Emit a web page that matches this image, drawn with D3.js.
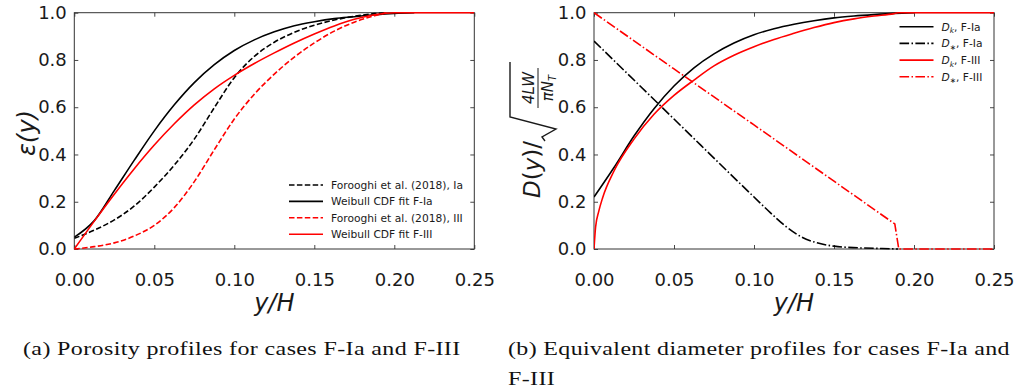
<!DOCTYPE html>
<html>
<head>
<meta charset="utf-8">
<script src="https://cdn.jsdelivr.net/npm/d3@7"></script>
<style>
  body { margin: 0; background: #fff; }
  svg { display: block; }
  text { font-family: "DejaVu Sans", sans-serif; fill: #1a1a1a; }
  text.caption { font-family: "Liberation Serif", "DejaVu Serif", serif; fill: #111; letter-spacing: 0.3px; }
</style>
</head>
<body>
<svg id="fig" width="1019" height="391"></svg>
<script>
// ---- tick labels ----
const xTickVals = [0, 0.05, 0.10, 0.15, 0.20, 0.25];
const xTickLabels = ["0.00", "0.05", "0.10", "0.15", "0.20", "0.25"];
const yTickVals = [0, 0.2, 0.4, 0.6, 0.8, 1.0];
const yTickLabels = ["0.0", "0.2", "0.4", "0.6", "0.8", "1.0"];

// ---- (a) porosity profiles ----
const forooghiX = [0, 0.0125, 0.025, 0.0375, 0.05, 0.0625, 0.075, 0.0875, 0.10, 0.1125, 0.125, 0.1375, 0.15, 0.1625, 0.175, 0.1875, 0.195];
const forooghiIa = [0.045, 0.08, 0.123, 0.182, 0.262, 0.355, 0.465, 0.598, 0.725, 0.815, 0.875, 0.917, 0.947, 0.969, 0.985, 0.996, 1.0];
const forooghiIII = [0.0, 0.01, 0.026, 0.055, 0.10, 0.175, 0.285, 0.42, 0.55, 0.655, 0.74, 0.812, 0.872, 0.922, 0.96, 0.987, 1.0];

const weibullIaX = [0, 0.0125, 0.025, 0.0375, 0.05, 0.0625, 0.075, 0.0875, 0.10, 0.1125, 0.125, 0.1375, 0.15, 0.1625, 0.175, 0.1875, 0.20, 0.2125];
const weibullIa = [0.05, 0.12, 0.247, 0.376, 0.50, 0.61, 0.704, 0.78, 0.84, 0.885, 0.919, 0.945, 0.962, 0.975, 0.983, 0.991, 0.997, 1.0];
const weibullIIIX = [0, 0.0125, 0.025, 0.0375, 0.05, 0.0625, 0.075, 0.0875, 0.10, 0.1125, 0.125, 0.1375, 0.15, 0.1625, 0.175, 0.1875, 0.20, 0.25];
const weibullIII = [0.0, 0.118, 0.232, 0.34, 0.44, 0.53, 0.61, 0.678, 0.735, 0.785, 0.83, 0.872, 0.91, 0.944, 0.972, 0.991, 1.0, 1.0];

// ---- (b) equivalent diameter profiles ----
const dkIaX = [0, 0.0125, 0.025, 0.0375, 0.05, 0.0625, 0.075, 0.0875, 0.10, 0.1125, 0.125, 0.1375, 0.15, 0.1625, 0.175, 0.1875, 0.20];
const dkIa = [0.22, 0.345, 0.478, 0.594, 0.69, 0.767, 0.826, 0.872, 0.907, 0.932, 0.951, 0.966, 0.978, 0.986, 0.992, 0.997, 1.0];
const dkIIIX = [0, 0.001, 0.003, 0.0054, 0.0125, 0.025, 0.0375, 0.05, 0.0625, 0.075, 0.0875, 0.10, 0.1125, 0.125, 0.1375, 0.15, 0.1625, 0.175, 0.1875, 0.19, 0.25];
const dkIII = [0.0, 0.093, 0.16, 0.217, 0.33, 0.465, 0.57, 0.65, 0.715, 0.775, 0.82, 0.856, 0.887, 0.913, 0.937, 0.958, 0.974, 0.986, 0.996, 1.0, 1.0];
const dStarIaX = [0, 0.05, 0.10, 0.11, 0.12, 0.13, 0.14, 0.15, 0.165, 0.18, 0.19];
const dStarIa = [0.88, 0.55, 0.22, 0.155, 0.095, 0.05, 0.025, 0.012, 0.005, 0.002, 0.0];
const dStarIIIX = [0, 0.05, 0.10, 0.15, 0.188, 0.1905, 0.25];
const dStarIII = [1.0, 0.762, 0.525, 0.287, 0.106, 0.0, 0.0];

const RED = "#ff0000", BLACK = "#000000";
const DASH = "5.5,2.4", DASHDOT = "9.6,2.4,1.5,2.4";
const LW = 1.6;

const svg = d3.select("#fig");
const plotTop = 12.7, plotBottom = 249;

function panel(x0, x1) {
  const x = d3.scaleLinear().domain([0, 0.25]).range([x0, x1]);
  const y = d3.scaleLinear().domain([0, 1]).range([plotBottom, plotTop]);
  const g = svg.append("g");

  const axB = d3.axisBottom(x).tickValues(xTickVals).tickFormat((d, i) => xTickLabels[i])
    .tickSizeInner(-4).tickSizeOuter(0).tickPadding(24);
  const axT = d3.axisTop(x).tickValues(xTickVals).tickFormat("").tickSizeInner(-4).tickSizeOuter(0);
  const axL = d3.axisLeft(y).tickValues(yTickVals).tickFormat((d, i) => yTickLabels[i])
    .tickSizeInner(-4).tickSizeOuter(0).tickPadding(7.5);
  const axR = d3.axisRight(y).tickValues(yTickVals).tickFormat("").tickSizeInner(-4).tickSizeOuter(0);

  const gb = g.append("g").attr("transform", `translate(0,${plotBottom})`).call(axB);
  const gt = g.append("g").attr("transform", `translate(0,${plotTop})`).call(axT);
  const gl = g.append("g").attr("transform", `translate(${x0},0)`).call(axL);
  const gr = g.append("g").attr("transform", `translate(${x1},0)`).call(axR);
  [gb, gt, gl, gr].forEach(a => {
    a.select(".domain").remove();
    a.selectAll(".tick line").attr("stroke", "#333").attr("stroke-width", 0.9);
    a.selectAll(".tick text").attr("font-size", 18).attr("font-family", "DejaVu Sans").attr("fill", "#1a1a1a");
  });

  g.append("rect").attr("x", x0).attr("y", plotTop).attr("width", x1 - x0).attr("height", plotBottom - plotTop)
    .attr("fill", "none").attr("stroke", "#333").attr("stroke-width", 1);

  const clip = "clip" + Math.round(x0);
  svg.append("clipPath").attr("id", clip).append("rect")
    .attr("x", x0).attr("y", plotTop - 2).attr("width", x1 - x0).attr("height", plotBottom - plotTop + 4);
  const plot = g.append("g").attr("clip-path", `url(#${clip})`);

  function series(xs, vs, color, dash, curve) {
    const line = d3.line().x(d => x(d[0])).y(d => y(d[1])).curve(curve || d3.curveMonotoneX);
    plot.append("path").datum(xs.map((v, i) => [v, vs[i]]))
      .attr("d", line).attr("fill", "none").attr("stroke", color)
      .attr("stroke-width", LW).attr("stroke-dasharray", dash || null)
      .attr("stroke-linejoin", "round");
  }
  return { x, y, g, series };
}

function legend(g, x0, y0, dy, items) {
  items.forEach((it, i) => {
    const yy = y0 + i * dy;
    g.append("line").attr("x1", x0).attr("x2", x0 + 34).attr("y1", yy).attr("y2", yy)
      .attr("stroke", it.color).attr("stroke-width", LW).attr("stroke-dasharray", it.dash || null);
    const t = g.append("text").attr("x", x0 + 42).attr("y", yy + 3.9).attr("font-size", 10.7);
    it.label(t);
  });
}

// ---- panel (a) ----
const pa = panel(74.3, 474.3);
pa.series(forooghiX, forooghiIa, BLACK, DASH);
pa.series(weibullIaX, weibullIa, BLACK);
pa.series(forooghiX, forooghiIII, RED, DASH);
pa.series(weibullIIIX, weibullIII, RED);

legend(pa.g, 289, 185, 16.4, [
  { color: BLACK, dash: DASH, label: t => t.text("Forooghi et al. (2018), Ia") },
  { color: BLACK, label: t => t.text("Weibull CDF fit F-Ia") },
  { color: RED, dash: DASH, label: t => t.text("Forooghi et al. (2018), III") },
  { color: RED, label: t => t.text("Weibull CDF fit F-III") }
]);

pa.g.append("text").attr("x", 274.3).attr("y", 311).attr("text-anchor", "middle")
  .attr("font-size", 24).attr("font-style", "italic").text("y/H");
pa.g.append("text").attr("transform", "translate(35,133) rotate(-90)").attr("text-anchor", "middle")
  .attr("font-size", 24).attr("font-style", "italic").text("ε(y)");

// ---- panel (b) ----
const pb = panel(594, 994);
pb.series(dkIaX, dkIa, BLACK);
pb.series(dStarIaX, dStarIa, BLACK, DASHDOT);
pb.series(dkIIIX, dkIII, RED);
pb.series(dStarIIIX, dStarIII, RED, DASHDOT, d3.curveLinear);

function dLabel(sub, caseName) {
  return t => {
    t.append("tspan").attr("font-style", "italic").text("D");
    t.append("tspan").attr("font-size", 7.5).attr("dy", 2.5).attr("font-style", sub === "k" ? "italic" : null).text(sub);
    t.append("tspan").attr("dy", -2.5).text(", " + caseName);
  };
}
legend(pb.g, 899.5, 26.7, 16.7, [
  { color: BLACK, label: dLabel("k", "F-Ia") },
  { color: BLACK, dash: DASHDOT, label: dLabel("∗", "F-Ia") },
  { color: RED, label: dLabel("k", "F-III") },
  { color: RED, dash: DASHDOT, label: dLabel("∗", "F-III") }
]);

pb.g.append("text").attr("x", 794).attr("y", 311).attr("text-anchor", "middle")
  .attr("font-size", 24).attr("font-style", "italic").text("y/H");

// y label of panel (b): D(y) / sqrt(4LW / (pi N_T))
const yl = pb.g.append("g").attr("transform", "translate(540,198) rotate(-90)");
const ylt = yl.append("text").attr("x", 0).attr("y", 0).attr("font-size", 23);
ylt.append("tspan").attr("font-style", "italic").text("D");
ylt.append("tspan").text("(");
ylt.append("tspan").attr("font-style", "italic").text("y");
ylt.append("tspan").text(")/");
yl.append("path").attr("d", "M57,5 L61,2 L69,16 L81,-30 L136,-30")
  .attr("fill", "none").attr("stroke", "#1a1a1a").attr("stroke-width", 1.4).attr("stroke-linejoin", "miter");
yl.append("line").attr("x1", 90).attr("x2", 130).attr("y1", -2).attr("y2", -2)
  .attr("stroke", "#1a1a1a").attr("stroke-width", 1);
yl.append("text").attr("x", 110).attr("y", -6).attr("text-anchor", "middle")
  .attr("font-size", 15).attr("font-style", "italic").text("4LW");
const den = yl.append("text").attr("x", 110).attr("y", 13).attr("text-anchor", "middle")
  .attr("font-size", 15).attr("font-style", "italic");
den.append("tspan").text("πN");
den.append("tspan").attr("font-size", 10).attr("dy", 3).text("T");

// ---- captions: glyphs widened horizontally so each line spans its column ----
function captionLine(x, y, width, str, scaleOverride) {
  const t = svg.append("text").attr("class", "caption").attr("x", 0).attr("y", 0)
    .attr("font-size", 19.5).text(str);
  const s = scaleOverride || width / t.node().getComputedTextLength();
  t.attr("transform", `translate(${x},${y}) scale(${s},1)`);
  return s;
}
const sA = captionLine(23, 355, 438, "(a) Porosity profiles for cases F-Ia and F-III");
captionLine(508, 355, 502, "(b) Equivalent diameter profiles for cases F-Ia and");
captionLine(508, 385, null, "F-III", sA);
</script>
</body>
</html>
